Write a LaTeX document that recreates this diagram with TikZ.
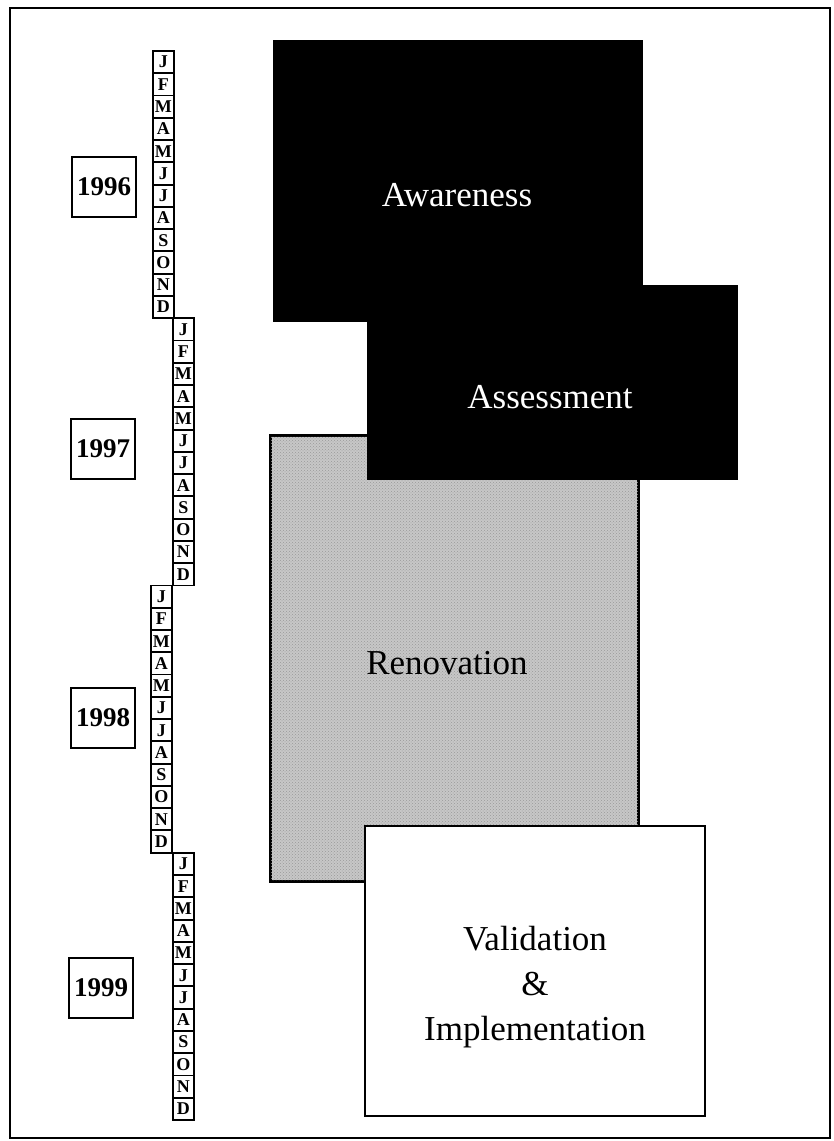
\documentclass[tikz,border=0pt]{standalone}
\usepackage{fontspec}
\setmainfont{Liberation Serif}
\usetikzlibrary{patterns}
\begin{document}
\begin{tikzpicture}[x=1pt,y=-1pt,
  mon/.style={draw, line width=1.9pt, minimum width=21pt, minimum height=22.27pt, inner sep=0pt, anchor=north west, font=\fontsize{18}{18}\selectfont\bfseries},
  yr/.style={draw, line width=2pt, minimum width=64pt, minimum height=60pt, inner sep=0pt, font=\fontsize{27}{27}\selectfont\bfseries},
  phase/.style={draw, line width=1.8pt, anchor=north west, inner sep=0pt},
  lab/.style={font=\fontsize{35}{45}\selectfont, align=center, inner sep=0pt}]
\useasboundingbox (0,0) rectangle (834,1141);
\draw[line width=2.6pt] (10,8) rectangle (830,1138);
% month columns
\foreach \yy/\cx/\ct in {96/152/50, 97/172/317.27, 98/150/584.5, 99/172/851.8}{
  \foreach \m [count=\i from 0] in {J,F,M,A,M,J,J,A,S,O,N,D}{
    \node[mon] (m\yy-\i) at (\cx, \ct+\i*22.27) {\m};
  }
}
% year boxes
\node[yr] (y96) at (104,187) {1996};
\node[yr] (y97) at (103,449) {1997};
\node[yr] (y98) at (103,718) {1998};
\node[yr] (y99) at (101,988) {1999};
% phases
\node[phase, fill=black, minimum width=368pt, minimum height=280pt] (aw) at (273,40) {};
\node[phase, fill=black!22, minimum width=367pt, minimum height=445pt] (ren) at (270,435) {};
\fill[pattern=crosshatch dots, pattern color=black!40] (ren.north west) rectangle (ren.south east);
\draw[line width=1.8pt] (ren.north west) rectangle (ren.south east);
\node[phase, fill=black, minimum width=369pt, minimum height=193pt] (as) at (367,285) {};
\node[phase, fill=white, minimum width=340pt, minimum height=290pt] (val) at (364,825) {};
\node[lab, text=white] (awt) at (457,195) {Awareness};
\node[lab, text=white] (ast) at (550,397) {Assessment};
\node[lab] (rent) at (447,663) {Renovation};
\node[lab] (valt) at (535,987) {Validation\\\&\\Implementation};
\end{tikzpicture}
\end{document}
